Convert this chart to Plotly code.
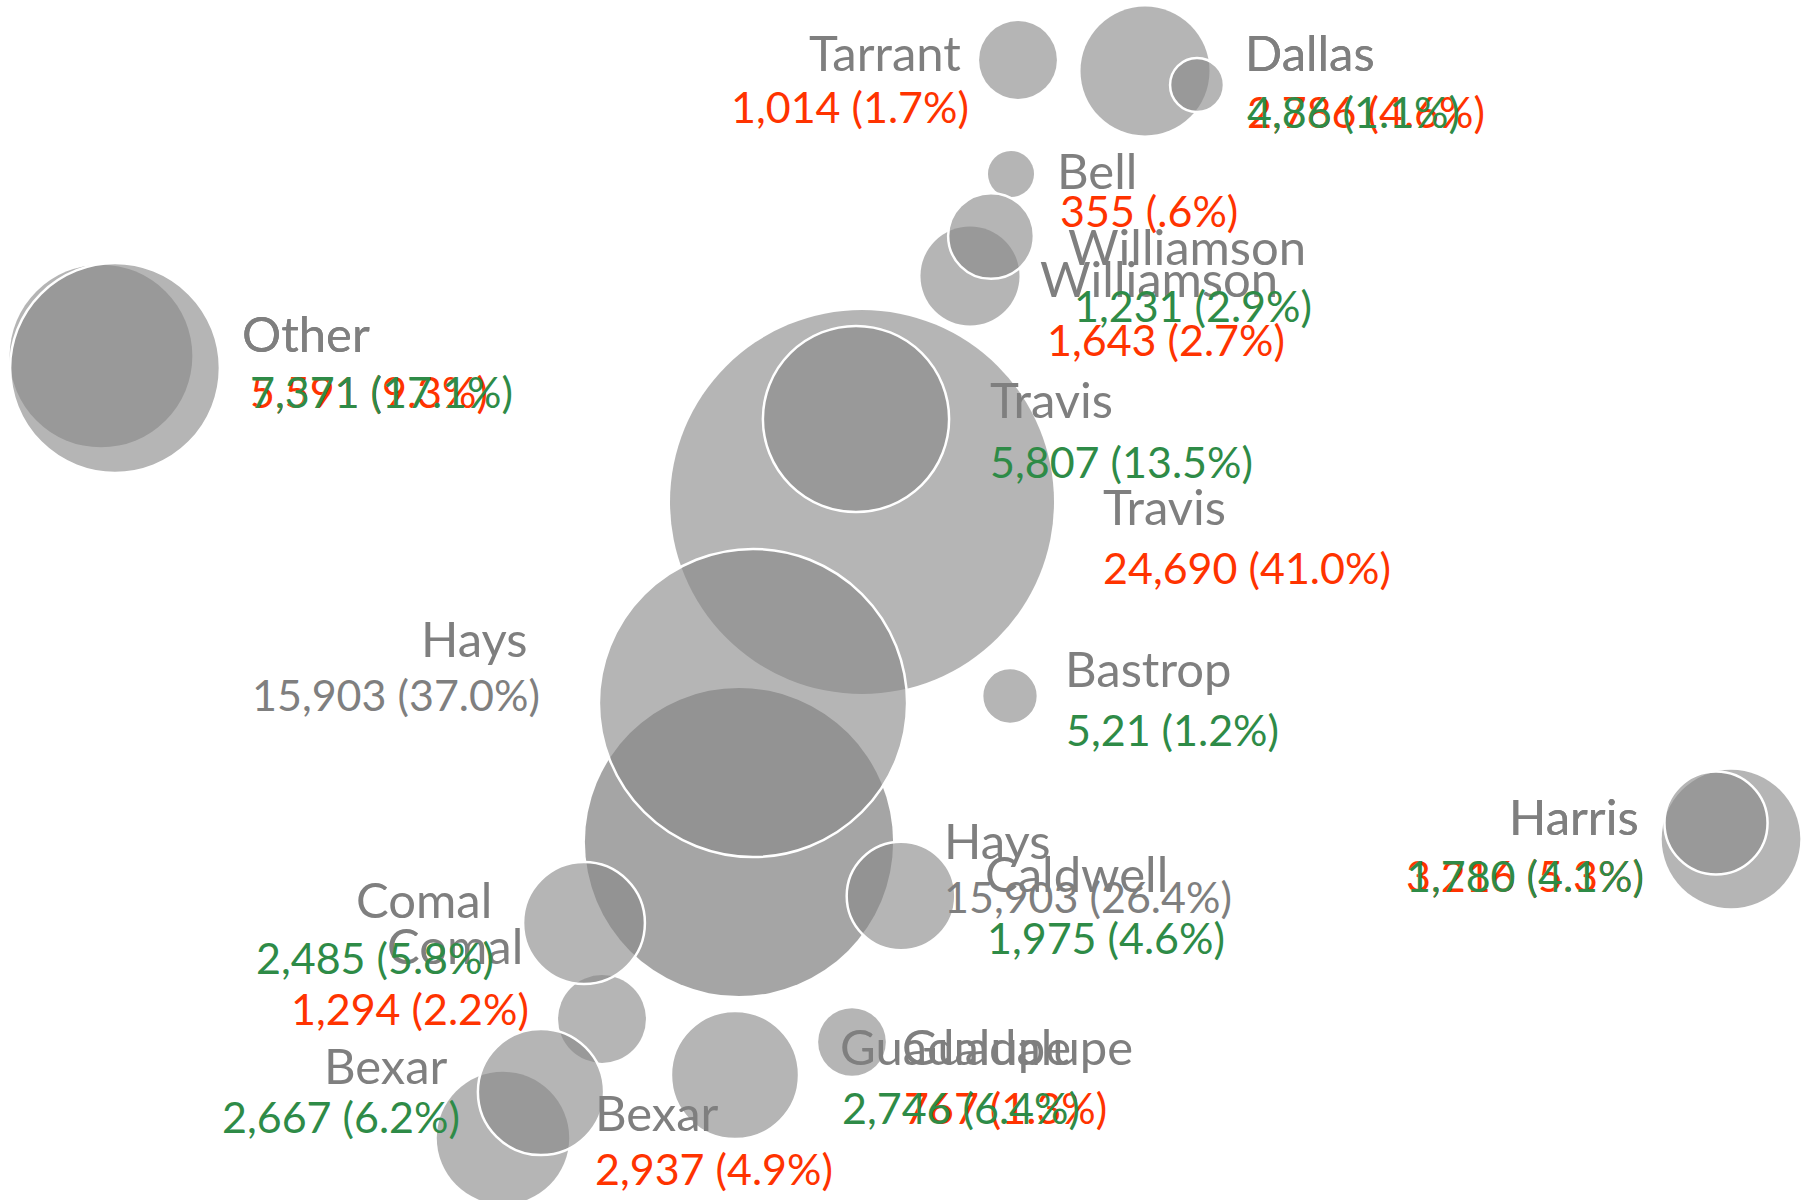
import plotly.graph_objects as go

# ---- Series A (orange-red labels) ----
a_county = ["Tarrant", "Dallas", "Bell", "Williamson", "Other", "Travis",
            "Hays", "Harris", "Comal", "Bexar", "Guadalupe"]
a_value = [1014, 2786, 355, 1643, 5591, 24690, 15903, 3216, 1294, 2937, 767]
a_label = ["1,014 (1.7%)", "2,786 (4.6%)", "355 (.6%)", "1,643 (2.7%)",
           "5,591 (9.3%)", "24,690 (41.0%)", "15,903 (26.4%)", "3,216 (5.3%)",
           "1,294 (2.2%)", "2,937 (4.9%)", "767 (1.3%)"]
a_x = [1018, 1145, 1011, 970, 101, 862, 739, 1731, 602, 503, 852]
a_y = [60, 71, 174, 276, 356, 502, 842, 839, 1019, 1138, 1042]

# ---- Series B (green labels) ----
b_county = ["Dallas", "Williamson", "Other", "Travis", "Hays", "Bastrop",
            "Harris", "Caldwell", "Comal", "Bexar", "Guadalupe"]
b_value = [486, 1231, 7371, 5807, 15903, 521, 1780, 1975, 2485, 2667, 2746]
b_label = ["4,86 (1.1%)", "1,231 (2.9%)", "7,371 (17.1%)", "5,807 (13.5%)",
           "15,903 (37.0%)", "5,21 (1.2%)", "1,780 (4.1%)", "1,975 (4.6%)",
           "2,485 (5.8%)", "2,667 (6.2%)", "2,746 (6.4%)"]
b_x = [1197, 991, 115, 856, 753, 1010, 1716, 901, 584, 541, 735]
b_y = [85, 236, 368, 419, 703, 696, 823, 896, 923, 1092, 1075]

# label placement: (anchor, name dx, name dy, value dx, value dy) in px from bubble centre
a_place = [("right", -55, -8, -47, 46), ("left", 98, -19, 100, 40),
           ("left", 44, -4, 47, 36), ("left", 68, 2, 75, 63),
           ("left", 139, -23, 147, 35), ("left", 239, 4, 239, 65),
           ("left", 203, -2, 203, 54), ("right", -90, -23, -85, 36),
           ("right", -77, -74, -71, -11), ("left", 90, -26, 90, 30),
           ("left", 48, 4, 50, 65)]
b_place = [("left", 46, -33, 48, 26), ("left", 75, 10, 81, 69),
           ("left", 125, -35, 133, 23), ("left", 132, -20, 132, 42),
           ("right", -224, -65, -211, -9), ("left", 53, -28, 54, 33),
           ("right", -75, -7, -70, 52), ("left", 82, -23, 84, 41),
           ("right", -90, -24, -88, 34), ("right", -91, -27, -79, 24),
           ("left", 103, -29, 105, 32)]

GRAY_TXT = "#7f7f7f"
RED_TXT = "#ff3300"
GREEN_TXT = "#2e8b47"
FONT = "Lato, 'Open Sans', sans-serif"
NAME_SIZE = 49
VALUE_SIZE = 43

max_val = max(a_value + b_value)
sizeref = 2.0 * max_val / (384 ** 2)

fill = "rgba(135,135,135,0.62)"
a_fill = [("rgba(135,135,135,0.75)" if c == "Hays" else fill) for c in a_county]

fig = go.Figure()
fig.add_trace(go.Scatter(
    x=a_x, y=a_y, mode="markers", name="A",
    marker=dict(size=a_value, sizemode="area", sizeref=sizeref, opacity=1,
                color=a_fill, line=dict(width=0)),
    hoverinfo="skip"))
fig.add_trace(go.Scatter(
    x=b_x, y=b_y, mode="markers", name="B",
    marker=dict(size=b_value, sizemode="area", sizeref=sizeref, opacity=1,
                color=fill, line=dict(width=2.5, color="white")),
    hoverinfo="skip"))


def add_labels(xs, ys, names, labels, places, color):
    for x, y, nm, lab, pl in zip(xs, ys, names, labels, places):
        anchor, ndx, ndy, vdx, vdy = pl
        vcol = GRAY_TXT if nm == "Hays" else color
        fig.add_annotation(x=x, y=y, text=nm, showarrow=False,
                           xanchor=anchor, yanchor="middle",
                           xshift=ndx, yshift=-ndy,
                           font=dict(family=FONT, size=NAME_SIZE, color=GRAY_TXT))
        fig.add_annotation(x=x, y=y, text=lab, showarrow=False,
                           xanchor=anchor, yanchor="middle",
                           xshift=vdx, yshift=-vdy,
                           font=dict(family=FONT, size=VALUE_SIZE, color=vcol))


add_labels(a_x, a_y, a_county, a_label, a_place, RED_TXT)
add_labels(b_x, b_y, b_county, b_label, b_place, GREEN_TXT)

fig.update_xaxes(range=[0, 1802], visible=False)
fig.update_yaxes(range=[1200, 0], visible=False)
fig.update_layout(width=1802, height=1200, margin=dict(l=0, r=0, t=0, b=0),
                  paper_bgcolor="white", plot_bgcolor="white",
                  showlegend=False)

fig.write_html("out.html")
